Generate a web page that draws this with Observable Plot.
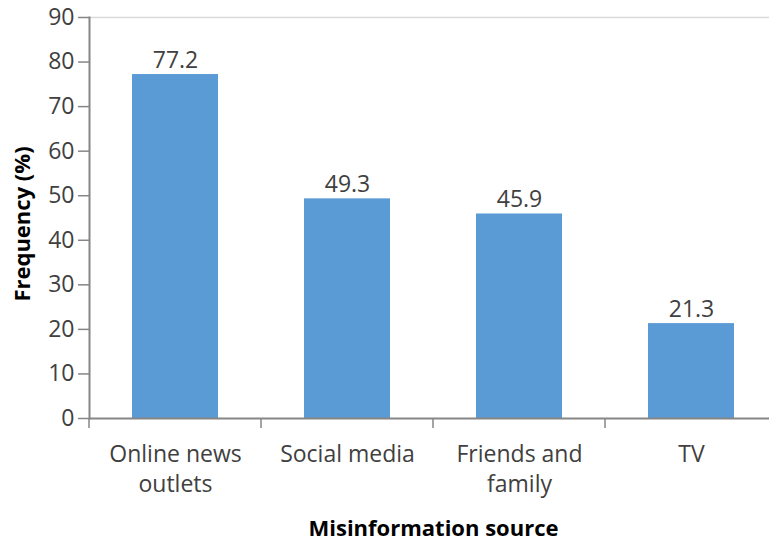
<!DOCTYPE html>
<html>
<head>
<meta charset="utf-8">
<script src="https://cdn.jsdelivr.net/npm/d3@7"></script>
<script src="https://cdn.jsdelivr.net/npm/@observablehq/plot@0.6"></script>
<style>
  html, body { margin: 0; padding: 0; background: #fff; }
  #chart svg { display: block; }
</style>
</head>
<body>
<div id="chart"></div>
<script>
const categories = ["Online news outlets", "Social media", "Friends and family", "TV"];
const tickLabels = ["Online news\noutlets", "Social media", "Friends and\nfamily", "TV"];
const values = [77.2, 49.3, 45.9, 21.3];
const yTicks = [0, 10, 20, 30, 40, 50, 60, 70, 80, 90];
const yLabel = "Frequency (%)";
const xLabel = "Misinformation source";

const data = categories.map((c, i) => ({source: c, value: values[i]}));
const labelOf = new Map(categories.map((c, i) => [c, tickLabels[i]]));

const axisColor = "#868686";
const textColor = "#404040";
const barColor = "#5B9BD5";
const font = "'Open Sans', sans-serif";

function categorySeparators(index, scales) {
  const x = scales.x;
  const bw = typeof x.bandwidth === "function" ? x.bandwidth() : scales.scales.x.bandwidth;
  const pos = categories.map(c => x(c));
  const gap = pos[1] - pos[0] - bw;
  const edges = pos.map(p => p - gap / 2);
  edges.push(pos[pos.length - 1] + bw + gap / 2);
  const y0 = scales.y(0);
  const g = d3.create("svg:g");
  g.selectAll("line").data(edges).join("line")
    .attr("x1", d => d).attr("x2", d => d)
    .attr("y1", y0).attr("y2", y0 + 10)
    .attr("stroke", axisColor).attr("stroke-width", 1.5);
  return g.node();
}

const chart = Plot.plot({
  width: 769,
  height: 543,
  marginLeft: 89,
  marginRight: -8,
  marginTop: 17,
  marginBottom: 125,
  style: {fontFamily: font, color: textColor, background: "#fff"},
  x: {type: "band", domain: categories, paddingInner: 0.5, paddingOuter: 0.25, label: null},
  y: {domain: [0, 90], label: null},
  marks: [
    Plot.ruleY([90], {stroke: "#d9d9d9", strokeWidth: 1.5}),
    Plot.barY(data, {x: "source", y: "value", fill: barColor}),
    Plot.text(data, {x: "source", y: "value", text: d => d.value.toFixed(1), dy: -7, lineAnchor: "bottom", fontSize: 23, fill: textColor}),
    Plot.axisY({ticks: yTicks, tickSize: 11, tickPadding: 4, fontSize: 23, stroke: axisColor, strokeWidth: 1.5, fill: textColor, label: null}),
    Plot.axisX({tickSize: 0, tickPadding: 23, fontSize: 23, lineHeight: 1.28, tickFormat: d => labelOf.get(d), fill: textColor, label: null}),
    Plot.frame({anchor: "left", stroke: axisColor, strokeWidth: 2}),
    Plot.ruleY([0], {stroke: axisColor, strokeWidth: 2}),
    categorySeparators,
    Plot.text([yLabel], {frameAnchor: "left", textAnchor: "middle", rotate: -90, dx: -67, dy: 6, fontSize: 22, fontWeight: "bold", fill: "#000", lineAnchor: "middle"}),
    Plot.text([xLabel], {frameAnchor: "bottom", textAnchor: "middle", dy: 110, fontSize: 22, fontWeight: "bold", fill: "#000", lineAnchor: "middle"})
  ]
});
document.getElementById("chart").append(chart);
</script>
</body>
</html>
